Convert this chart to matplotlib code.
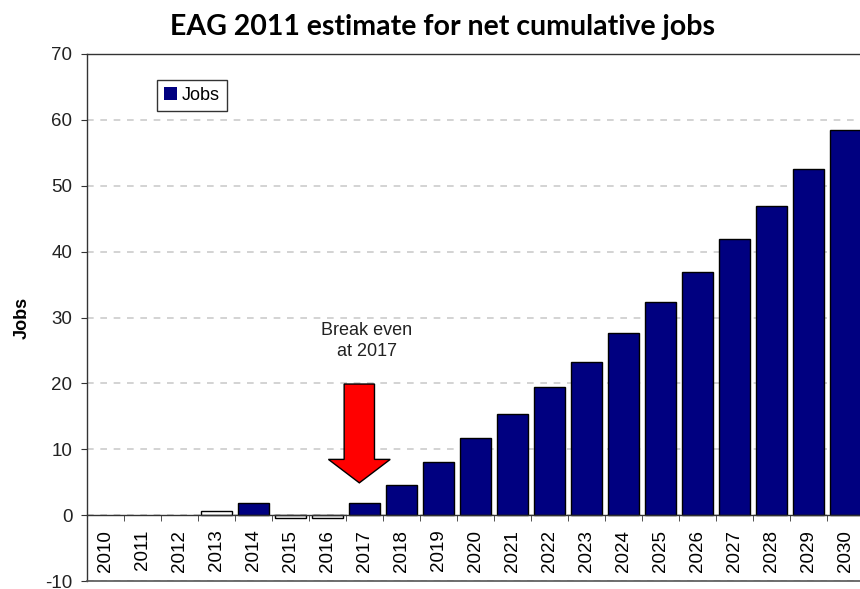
import matplotlib
matplotlib.use("Agg")
from matplotlib import pyplot as plt
from matplotlib.patches import FancyArrow

years = list(range(2010, 2031))
jobs = [0, 0, 0, 0.7, 1.8, -0.45, -0.45, 1.85, 4.6, 8.1, 11.7, 15.4, 19.4,
        23.2, 27.6, 32.3, 36.9, 41.9, 47.0, 52.6, 58.4]
hollow_years = [2013, 2015, 2016]
break_even_year = 2017

plt.rcParams['font.family'] = ['Liberation Sans', 'DejaVu Sans']
plt.rcParams['axes.unicode_minus'] = False

fig = plt.figure(figsize=(8.6, 5.89), dpi=100)
ax = fig.add_axes([87 / 860, 1 - 581 / 589, 777 / 860, 527 / 589])

pos = list(range(len(years)))
colors = ['white' if y in hollow_years else '#000080' for y in years]
# zero-valued years get no visible bar
edges = ['none' if v == 0 else 'black' for v in jobs]
ax.bar(pos, jobs, width=0.84, color=colors, edgecolor=edges, linewidth=1,
       label='Jobs', zorder=3)

ax.set_xlim(-0.5, len(years) - 0.5)
ax.set_ylim(-10, 70)
ax.set_yticks(range(-10, 71, 10))
ax.yaxis.grid(True, color='#cccccc', linestyle=(0, (4, 4)), linewidth=1.2)
ax.set_axisbelow(True)

# category axis sits on the zero line, ticks between the bars
ax.spines['bottom'].set_position(('data', 0))
ax.spines['right'].set_visible(False)
for s in ['bottom', 'left', 'top']:
    ax.spines[s].set_color('#333333')
    ax.spines[s].set_linewidth(1)
ax.spines['bottom'].set_zorder(4)
ax.axhline(-10, color='#555555', linewidth=1.2, clip_on=False, zorder=4)

ax.set_xticks(pos)
ax.set_xticklabels([str(y) for y in years], rotation=90, fontsize=13.5)
ax.set_xticks([p - 0.5 for p in pos] + [len(years) - 0.5], minor=True)
ax.tick_params(axis='x', which='major', length=0, pad=10.5)
ax.tick_params(axis='x', which='minor', length=4.5, direction='out',
               color='#333333')
ax.tick_params(axis='y', length=4.5, color='#333333', labelsize=13.5,
               labelcolor='#222222', pad=6)

ax.set_ylabel('Jobs', fontsize=13, fontweight='bold')
ax.yaxis.set_label_coords(-56 / 777, 0.5)

# break-even marker
bx = years.index(break_even_year)
ax.add_patch(FancyArrow(bx - 0.14, 19.9, 0, -15.0, width=0.82,
                        head_width=1.67, head_length=3.56,
                        length_includes_head=True, facecolor='#ff0000',
                        edgecolor='black', linewidth=1, zorder=5))
ax.text(bx + 0.06, 26.4, 'Break even\nat %d' % break_even_year,
        ha='center', va='center', fontsize=13, color='#222222',
        linespacing=1.3)

leg = ax.legend(loc='upper left', bbox_to_anchor=(0.09, 0.951), fontsize=13,
                frameon=True, fancybox=False, framealpha=1, edgecolor='#333333',
                handlelength=0.7, handleheight=0.7, handletextpad=0.3,
                borderpad=0.4, borderaxespad=0)
leg.get_frame().set_linewidth(1)

fig.text(443 / 860, 1 - 27 / 589, 'EAG 2011 estimate for net cumulative jobs',
         ha='center', va='center', fontsize=20.5, fontweight='bold',
         family=['Lato', 'DejaVu Sans'])

fig.savefig('out.png', dpi=100)
